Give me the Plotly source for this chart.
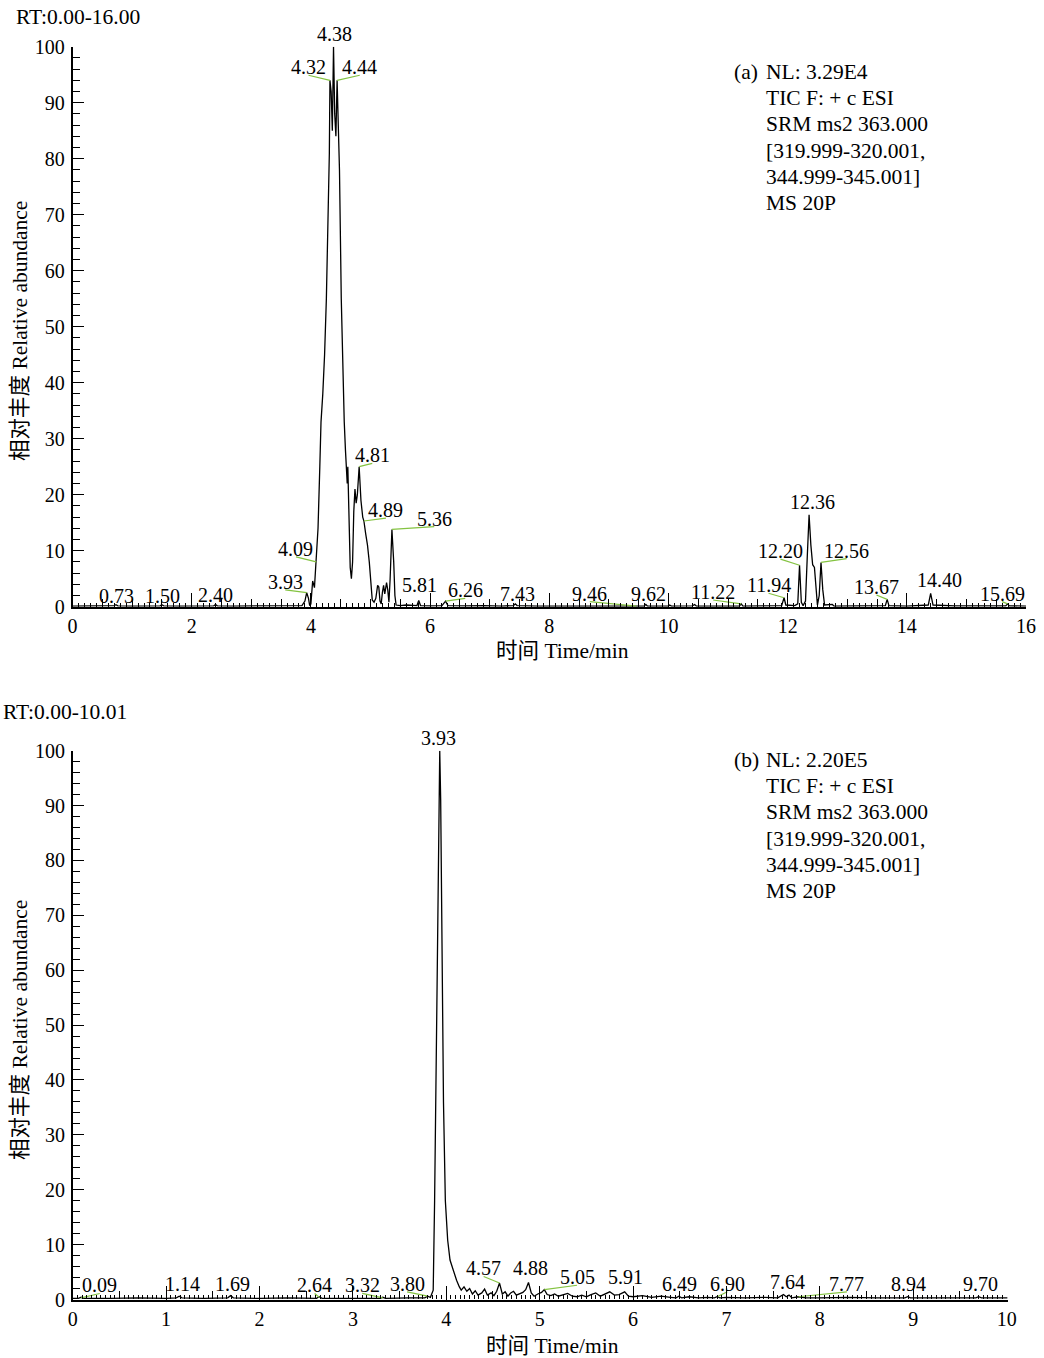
import plotly.graph_objects as go

W, H = 1044, 1358
SERIF = "Liberation Serif, Times New Roman, Noto Sans CJK SC, serif"
GREEN = "#84c341"
FS = 20      # tick labels and peak labels
FS_TXT = 21.5  # header / info / titles

# ---------------- data: chromatogram (a) ----------------
TOP_T = [0.00, 0.30, 0.55, 0.70, 0.73, 0.76, 1.00, 1.25, 1.47, 1.50, 1.53, 1.80, 2.10, 2.37, 2.40, 2.43,
         2.70, 3.00, 3.30, 3.60, 3.85, 3.90, 3.93, 3.96, 3.98, 4.00, 4.03, 4.06, 4.09, 4.12, 4.15, 4.17,
         4.20, 4.23, 4.26, 4.29, 4.31, 4.32, 4.34, 4.36, 4.38, 4.40, 4.42, 4.44, 4.46, 4.48, 4.51, 4.54,
         4.56, 4.58, 4.60, 4.61, 4.62, 4.64, 4.66, 4.68, 4.70, 4.72, 4.74, 4.76, 4.78, 4.81, 4.84, 4.87,
         4.89, 4.92, 4.95, 4.98, 5.01, 5.03, 5.06, 5.09, 5.12, 5.14, 5.16, 5.18, 5.20, 5.22, 5.24, 5.27,
         5.29, 5.31, 5.33, 5.36, 5.39, 5.41, 5.43, 5.50, 5.60, 5.70, 5.78, 5.81, 5.84, 6.00, 6.20, 6.26,
         6.30, 6.60, 6.90, 7.20, 7.40, 7.43, 7.46, 7.80, 8.20, 8.60, 9.00, 9.46, 9.59, 9.62, 9.65, 10.00,
         10.02, 10.05, 10.40, 10.44, 10.47, 10.90, 11.19, 11.22, 11.25, 11.60, 11.90, 11.94, 11.97, 12.12,
         12.17, 12.20, 12.23, 12.26, 12.30, 12.33, 12.36, 12.39, 12.42, 12.45, 12.48, 12.50, 12.53, 12.56,
         12.59, 12.62, 12.75, 12.78, 13.20, 13.50, 13.64, 13.67, 13.70, 14.00, 14.36, 14.40, 14.44, 14.80,
         15.20, 15.50, 15.66, 15.69, 15.72, 16.00]
TOP_A = [0.1, 0.15, 0.1, 0.2, 0.35, 0.15, 0.1, 0.15, 0.15, 0.35, 0.15, 0.1, 0.15, 0.15, 0.4, 0.15,
         0.1, 0.15, 0.1, 0.2, 0.2, 1.0, 2.5, 1.5, 0.2, 0.5, 4.6, 3.4, 8.0, 14.0, 25.0, 33.0,
         38.0, 45.0, 55.0, 72.0, 81.0, 94.0, 92.0, 85.0, 100.0, 88.0, 84.0, 94.0, 86.0, 78.0, 55.0, 40.0,
         33.0, 28.0, 24.5, 22.0, 25.0, 15.0, 7.0, 5.0, 8.0, 17.0, 21.0, 18.5, 20.0, 25.0, 19.0, 16.0,
         15.3, 13.0, 11.0, 8.0, 4.0, 1.2, 0.8, 1.5, 3.8, 3.5, 1.0, 0.5, 2.5, 3.8, 2.3, 4.3,
         3.0, 0.8, 5.0, 13.8, 8.0, 2.0, 0.3, 0.2, 0.3, 0.2, 0.2, 1.1, 0.2, 0.15, 0.2, 1.0,
         0.2, 0.15, 0.2, 0.1, 0.2, 0.5, 0.2, 0.1, 0.15, 0.1, 0.1, 0.1, 0.1, 0.4, 0.1, 0.1,
         0.3, 0.1, 0.15, 0.4, 0.1, 0.1, 0.1, 0.5, 0.1, 0.15, 0.2, 1.6, 0.3, 0.2,
         0.5, 7.4, 0.8, 0.2, 1.0, 9.0, 16.4, 11.0, 7.5, 7.0, 2.0, 0.3, 2.0, 7.9,
         3.0, 0.3, 0.4, 0.1, 0.15, 0.1, 0.2, 1.3, 0.2, 0.1, 0.3, 2.4, 0.3, 0.15,
         0.1, 0.15, 0.15, 0.5, 0.15, 0.1]

# peak labels (a): text, label x, label y (digit baseline), peak x, peak y (None = no leader)
TOP_LBL_TEXT = ["0.73", "1.50", "2.40", "3.93", "4.09", "4.32", "4.38", "4.44", "4.81", "4.89", "5.36",
                "5.81", "6.26", "7.43", "9.46", "9.62", "11.22", "11.94", "12.20", "12.36", "12.56",
                "13.67", "14.40", "15.69"]
TOP_LBL_X = [0.73, 1.51, 2.40, 3.57, 3.75, 3.96, 4.40, 4.82, 5.03, 5.26, 6.07,
             5.82, 6.59, 7.46, 8.68, 9.66, 10.75, 11.68, 11.88, 12.41, 12.99,
             13.49, 14.55, 15.60]
TOP_LBL_Y = [0.5, 0.5, 0.6, 3.0, 8.9, 94.9, 100.8, 94.9, 25.6, 15.8, 14.3,
             2.4, 1.5, 0.8, 0.9, 0.9, 1.2, 2.4, 8.5, 17.3, 8.6,
             2.1, 3.3, 0.9]
TOP_PK_X = [None, None, None, 3.93, 4.09, 4.32, None, 4.44, 4.81, 4.89, 5.36,
            None, 6.26, None, 9.46, None, 11.22, 11.94, 12.20, None, 12.56,
            13.67, None, 15.69]
TOP_PK_Y = [None, None, None, 2.5, 8.0, 94.0, None, 94.0, 25.0, 15.3, 13.8,
            None, 1.0, None, 0.1, None, 0.5, 1.6, 7.4, None, 7.9,
            1.3, None, 0.5]

# ---------------- data: chromatogram (b) ----------------
BOT_T = [0.00, 0.06, 0.09, 0.12, 0.40, 0.70, 1.00, 1.11, 1.14, 1.17, 1.40, 1.66, 1.69, 1.72, 2.00, 2.30,
         2.61, 2.64, 2.67, 3.00, 3.29, 3.32, 3.35, 3.60, 3.77, 3.80, 3.83, 3.86, 3.875, 3.90, 3.915, 3.93,
         3.94, 3.955, 3.97, 3.99, 4.015, 4.04, 4.08, 4.11, 4.14, 4.16, 4.19, 4.22, 4.25, 4.28, 4.31, 4.34,
         4.38, 4.41, 4.44, 4.48, 4.51, 4.54, 4.57, 4.60, 4.63, 4.66, 4.69, 4.72, 4.75, 4.78, 4.82, 4.85,
         4.88, 4.91, 4.94, 4.98, 5.02, 5.05, 5.08, 5.12, 5.16, 5.20, 5.25, 5.30, 5.35, 5.40, 5.45, 5.50,
         5.55, 5.60, 5.65, 5.70, 5.75, 5.80, 5.85, 5.91, 5.95, 6.00, 6.10, 6.20, 6.30, 6.40, 6.46, 6.49,
         6.52, 6.60, 6.70, 6.80, 6.87, 6.90, 6.93, 7.00, 7.20, 7.40, 7.55, 7.61, 7.64, 7.67, 7.70, 7.77,
         7.85, 8.00, 8.30, 8.60, 8.91, 8.94, 8.97, 9.30, 9.67, 9.70, 9.73, 10.01]
BOT_A = [0.2, 0.2, 0.4, 0.2, 0.2, 0.3, 0.2, 0.3, 0.6, 0.3, 0.2, 0.3, 0.7, 0.3, 0.2, 0.3,
         0.2, 0.5, 0.2, 0.2, 0.2, 0.4, 0.2, 0.3, 0.3, 0.6, 0.4, 1.7, 18.0, 55.0, 82.0, 100.0,
         91.0, 64.0, 36.0, 18.0, 10.8, 7.2, 4.8, 3.5, 2.3, 1.7, 2.3, 1.5, 2.0, 1.0, 1.6, 0.8,
         1.2, 1.9, 0.8, 1.2, 0.7, 1.5, 3.0, 1.0, 1.4, 0.6, 1.2, 1.5, 0.8, 1.0, 1.3, 1.8,
         3.1, 1.2, 0.6, 1.0, 1.3, 1.8, 0.9, 0.7, 1.0, 0.6, 0.8, 1.1, 0.6, 0.5, 0.8, 0.5,
         0.9, 1.2, 0.6, 1.0, 1.4, 0.8, 0.9, 1.4, 0.6, 0.5, 0.7, 0.4, 0.6, 0.4, 0.3, 0.6,
         0.3, 0.5, 0.3, 0.4, 0.3, 0.5, 0.3, 0.4, 0.3, 0.4, 0.3, 0.9, 0.5, 0.8, 0.3, 0.5,
         0.3, 0.3, 0.4, 0.3, 0.3, 0.5, 0.3, 0.3, 0.3, 0.5, 0.3, 0.3]

BOT_LBL_TEXT = ["0.09", "1.14", "1.69", "2.64", "3.32", "3.80", "3.93", "4.57", "4.88", "5.05", "5.91",
                "6.49", "6.90", "7.64", "7.77", "8.94", "9.70"]
BOT_LBL_X = [0.29, 1.18, 1.71, 2.59, 3.10, 3.58, 3.92, 4.40, 4.90, 5.40, 5.92,
             6.50, 7.01, 7.65, 8.29, 8.95, 9.72]
BOT_LBL_Y = [1.1, 1.4, 1.4, 1.1, 1.1, 1.4, 100.8, 4.2, 4.2, 2.6, 2.6,
             1.4, 1.4, 1.7, 1.4, 1.4, 1.4]
BOT_PK_X = [0.09, None, None, 2.64, 3.32, 3.80, None, 4.57, None, 5.05, None,
            None, 6.90, None, 7.77, None, None]
BOT_PK_Y = [0.3, None, None, 0.4, 0.3, 0.6, None, 3.0, None, 1.8, None,
            None, 0.5, None, 0.5, None, None]

# axis ticks
TOP_XLABELS = [0, 2, 4, 6, 8, 10, 12, 14, 16]
BOT_XLABELS = [0, 1, 2, 3, 4, 5, 6, 7, 8, 9, 10]
YLABELS = [0, 10, 20, 30, 40, 50, 60, 70, 80, 90, 100]

INFO_A = ["NL: 3.29E4", "TIC F: + c ESI", "SRM ms2 363.000", "[319.999-320.001,", "344.999-345.001]", "MS 20P"]
INFO_B = ["NL: 2.20E5", "TIC F: + c ESI", "SRM ms2 363.000", "[319.999-320.001,", "344.999-345.001]", "MS 20P"]

# pixel geometry of the two panels
TOP_X0, TOP_X1, TOP_Y0, TOP_Y1 = 72.5, 1026.0, 606.7, 46.7
BOT_X0, BOT_X1, BOT_Y0, BOT_Y1 = 72.7, 1007.6, 1299.5, 750.7


def leaders(lx, ly, px, py):
    xs, ys = [], []
    for a, b, c, d in zip(lx, ly, px, py):
        if c is None:
            continue
        xs += [c, a, None]
        ys += [d, b, None]
    return xs, ys


fig = go.Figure()
fig.add_trace(go.Scatter(x=TOP_T, y=TOP_A, xaxis="x", yaxis="y", mode="lines",
                         line=dict(color="black", width=1.3), cliponaxis=False, hoverinfo="skip"))
lx, ly = leaders(TOP_LBL_X, TOP_LBL_Y, TOP_PK_X, TOP_PK_Y)
fig.add_trace(go.Scatter(x=lx, y=ly, xaxis="x3", yaxis="y", mode="lines",
                         line=dict(color=GREEN, width=1.2), cliponaxis=False, hoverinfo="skip"))
fig.add_trace(go.Scatter(x=BOT_T, y=BOT_A, xaxis="x2", yaxis="y2", mode="lines",
                         line=dict(color="black", width=1.3), cliponaxis=False, hoverinfo="skip"))
lx, ly = leaders(BOT_LBL_X, BOT_LBL_Y, BOT_PK_X, BOT_PK_Y)
fig.add_trace(go.Scatter(x=lx, y=ly, xaxis="x4", yaxis="y2", mode="lines",
                         line=dict(color=GREEN, width=1.2), cliponaxis=False, hoverinfo="skip"))

tickfont = dict(family=SERIF, size=FS, color="black")


def xaxis_main(domain, rng, labels, mid, minor, anchor):
    vals, texts = [], []
    v = 0.0
    while v <= rng[1] + 1e-9:
        vals.append(round(v, 3))
        texts.append(str(int(round(v))) if any(abs(v - L) < 1e-6 for L in labels) else "")
        v += mid
    return dict(domain=domain, range=rng, anchor=anchor, showline=True, linewidth=2.2, linecolor="black",
                ticks="inside", ticklen=8, tickwidth=1, tickcolor="black", automargin=False,
                tickmode="array", tickvals=vals, ticktext=texts, tickfont=tickfont,
                minor=dict(ticks="inside", ticklen=4, tickwidth=1, tickcolor="black",
                           tickmode="linear", tick0=0, dtick=minor),
                showgrid=False, zeroline=False, fixedrange=True)


def xaxis_long(over, rng, labels, anchor):
    return dict(overlaying=over, anchor=anchor, range=rng, side="bottom", showline=False,
                ticks="inside", ticklen=14, tickwidth=1, tickcolor="black", automargin=False,
                tickmode="array", tickvals=labels, showticklabels=False,
                showgrid=False, zeroline=False, fixedrange=True)


def yaxis(domain, anchor):
    return dict(domain=domain, range=[0, 100], anchor=anchor, showline=True, linewidth=1.5,
                linecolor="black", ticks="inside", ticklen=12, tickwidth=1, tickcolor="black",
                tickmode="array", tickvals=YLABELS, tickfont=tickfont, ticklabelstandoff=2,
                automargin=False,
                minor=dict(ticks="inside", ticklen=8, tickwidth=1, tickcolor="black",
                           tickmode="linear", tick0=0, dtick=2),
                showgrid=False, zeroline=False, fixedrange=True)


top_xd = [TOP_X0 / W, TOP_X1 / W]
bot_xd = [BOT_X0 / W, BOT_X1 / W]
top_yd = [1 - TOP_Y0 / H, 1 - TOP_Y1 / H]
bot_yd = [1 - BOT_Y0 / H, 1 - BOT_Y1 / H]

fig.update_layout(
    width=W, height=H, margin=dict(l=0, r=0, t=0, b=0, autoexpand=False),
    paper_bgcolor="white", plot_bgcolor="white", showlegend=False,
    font=dict(family=SERIF, size=FS, color="black"),
    xaxis=xaxis_main(top_xd, [0, 16], TOP_XLABELS, 0.5, 0.1, "y"),
    xaxis3=xaxis_long("x", [0, 16], TOP_XLABELS, "y"),
    yaxis=yaxis(top_yd, "x"),
    xaxis2=xaxis_main(bot_xd, [0, 10.01], BOT_XLABELS, 0.5, 0.05, "y2"),
    xaxis4=xaxis_long("x2", [0, 10.01], BOT_XLABELS, "y2"),
    yaxis2=yaxis(bot_yd, "x2"),
)

ann = []


def peak_labels(texts, xs, ys, xref, yref, px_per_unit):
    out = []
    for t, x, y in zip(texts, xs, ys):
        yy = min(y, 100.0)
        extra = (y - yy) * px_per_unit
        out.append(dict(xref=xref, yref=yref, x=x, y=yy, text=t, showarrow=False, xanchor="center",
                        yanchor="bottom", yshift=-5 + extra,
                        font=dict(family=SERIF, size=FS, color="black")))
    return out


ann += peak_labels(TOP_LBL_TEXT, TOP_LBL_X, TOP_LBL_Y, "x", "y", (TOP_Y0 - TOP_Y1) / 100)
ann += peak_labels(BOT_LBL_TEXT, BOT_LBL_X, BOT_LBL_Y, "x2", "y2", (BOT_Y0 - BOT_Y1) / 100)


def pa(text, px, py, xanchor="left", yanchor="middle", angle=0, size=FS_TXT):
    return dict(xref="paper", yref="paper", x=px / W, y=1 - py / H, text=text, showarrow=False,
                xanchor=xanchor, yanchor=yanchor, textangle=angle, align="left",
                font=dict(family=SERIF, size=size, color="black"))


ann += [
    pa("RT:0.00-16.00", 14, 17),
    pa("RT:0.00-10.01", 1, 712),
    pa("(a)", 732, 72),
    pa("(b)", 732, 760),
    pa("时间 Time/min", 562, 651, xanchor="center"),
    pa("时间 Time/min", 552, 1346, xanchor="center"),
    pa("相对丰度 Relative abundance", 20, 331, xanchor="center", angle=-90),
    pa("相对丰度 Relative abundance", 20, 1030, xanchor="center", angle=-90),
]
for i, line in enumerate(INFO_A):
    ann.append(pa(line, 764, 72 + 26.2 * i))
for i, line in enumerate(INFO_B):
    ann.append(pa(line, 764, 760 + 26.2 * i))

fig.update_layout(annotations=ann)

fig.write_html(
    "out.html",
    config={"displayModeBar": False},
    post_script="document.body.style.margin='0';document.body.style.padding='0';"
                "document.body.style.overflow='hidden';",
)
